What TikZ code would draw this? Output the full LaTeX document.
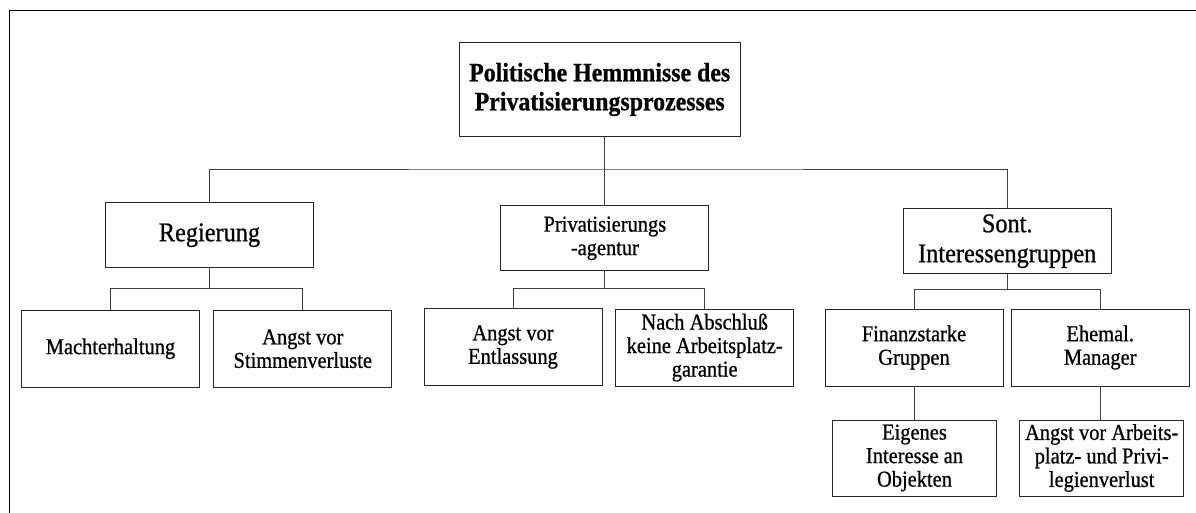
\documentclass[tikz,border=0pt]{standalone}
\usepackage{fontspec}
\setmainfont{Liberation Serif}[FakeStretch=0.9, FakeBold=0.8]

\tikzset{
  box/.style={draw=black!85, line width=0.9pt, align=center, inner sep=0pt,
    font=\fontsize{22.7}{23.5}\selectfont},
  headbox/.style={box, minimum width=208pt, minimum height=65pt},
  leafbox/.style={box, minimum width=178pt, minimum height=77pt},
  smallbox/.style={box, minimum width=164pt, minimum height=76pt},
  link/.style={draw=black!75, line width=0.9pt}
}

\begin{document}
\begin{tikzpicture}[x=1pt, y=-1pt]
            % Frame
            \useasboundingbox (0,0) rectangle (1196,513);
            \draw[line width=0.9pt] (9,513) -- (9,10) -- (1196,10);

            % Top box
            \node[box, minimum width=281pt, minimum height=94pt,
                  font=\bfseries\fontsize{26.5}{29}\selectfont] (root) at (599.7,89.5)
                 {Politische Hemmnisse des\\Privatisierungsprozesses};

            % First level
            \node[headbox, font=\fontsize{27}{30}\selectfont] (reg) at (209.5,235.2) {Regierung};
            \node[headbox] (priv) at (604.9,238.3) {Privatisierungs\\-agentur};
            \node[headbox, font=\fontsize{27}{30}\selectfont] (sont) at (1007.2,241.2) {Sont.\\Interessengruppen};

            % Second level
            \node[leafbox] (mach) at (110.5,348.7) {Machterhaltung};
            \node[leafbox] (stim) at (302.8,348.7) {Angst vor\\Stimmenverluste};
            \node[leafbox] (entl) at (513,347) {Angst vor\\Entlassung};
            \node[leafbox] (nach) at (704.7,347.5) {Nach Abschluß\\keine Arbeitsplatz-\\garantie};
            \node[leafbox] (fin) at (914,347.5) {Finanzstarke\\Gruppen};
            \node[leafbox] (ehem) at (1100.2,347.5) {Ehemal.\\Manager};

            % Third level
            \node[smallbox] (eig) at (914.5,458) {Eigenes\\Interesse an\\Objekten};
            \node[smallbox] (arb) at (1101.7,458) {Angst vor Arbeits-\\platz- und Privi-\\legienverlust};

            % Connectors
            \coordinate (bus) at (604,169);
            \draw[link] (root.south -| priv.north) -- (priv.north);
            \draw[link] (reg.north) |- (bus) -| (sont.north);

            \draw[link] (reg.south) -- ++(0,20) coordinate (rb) -| (mach.north);
            \draw[link] (rb) -| (stim.north);

            \draw[link] (priv.south) -- ++(0,17) coordinate (pb) -| (entl.north);
            \draw[link] (pb) -| (nach.north);

            \draw[link] (sont.south) -- ++(0,15) coordinate (sb) -| (fin.north);
            \draw[link] (sb) -| (ehem.north);

            \draw[link] (fin.south) -- (fin.south |- eig.north);
            \draw[link] (ehem.south) -- (ehem.south |- arb.north);

\end{tikzpicture}
\end{document}
